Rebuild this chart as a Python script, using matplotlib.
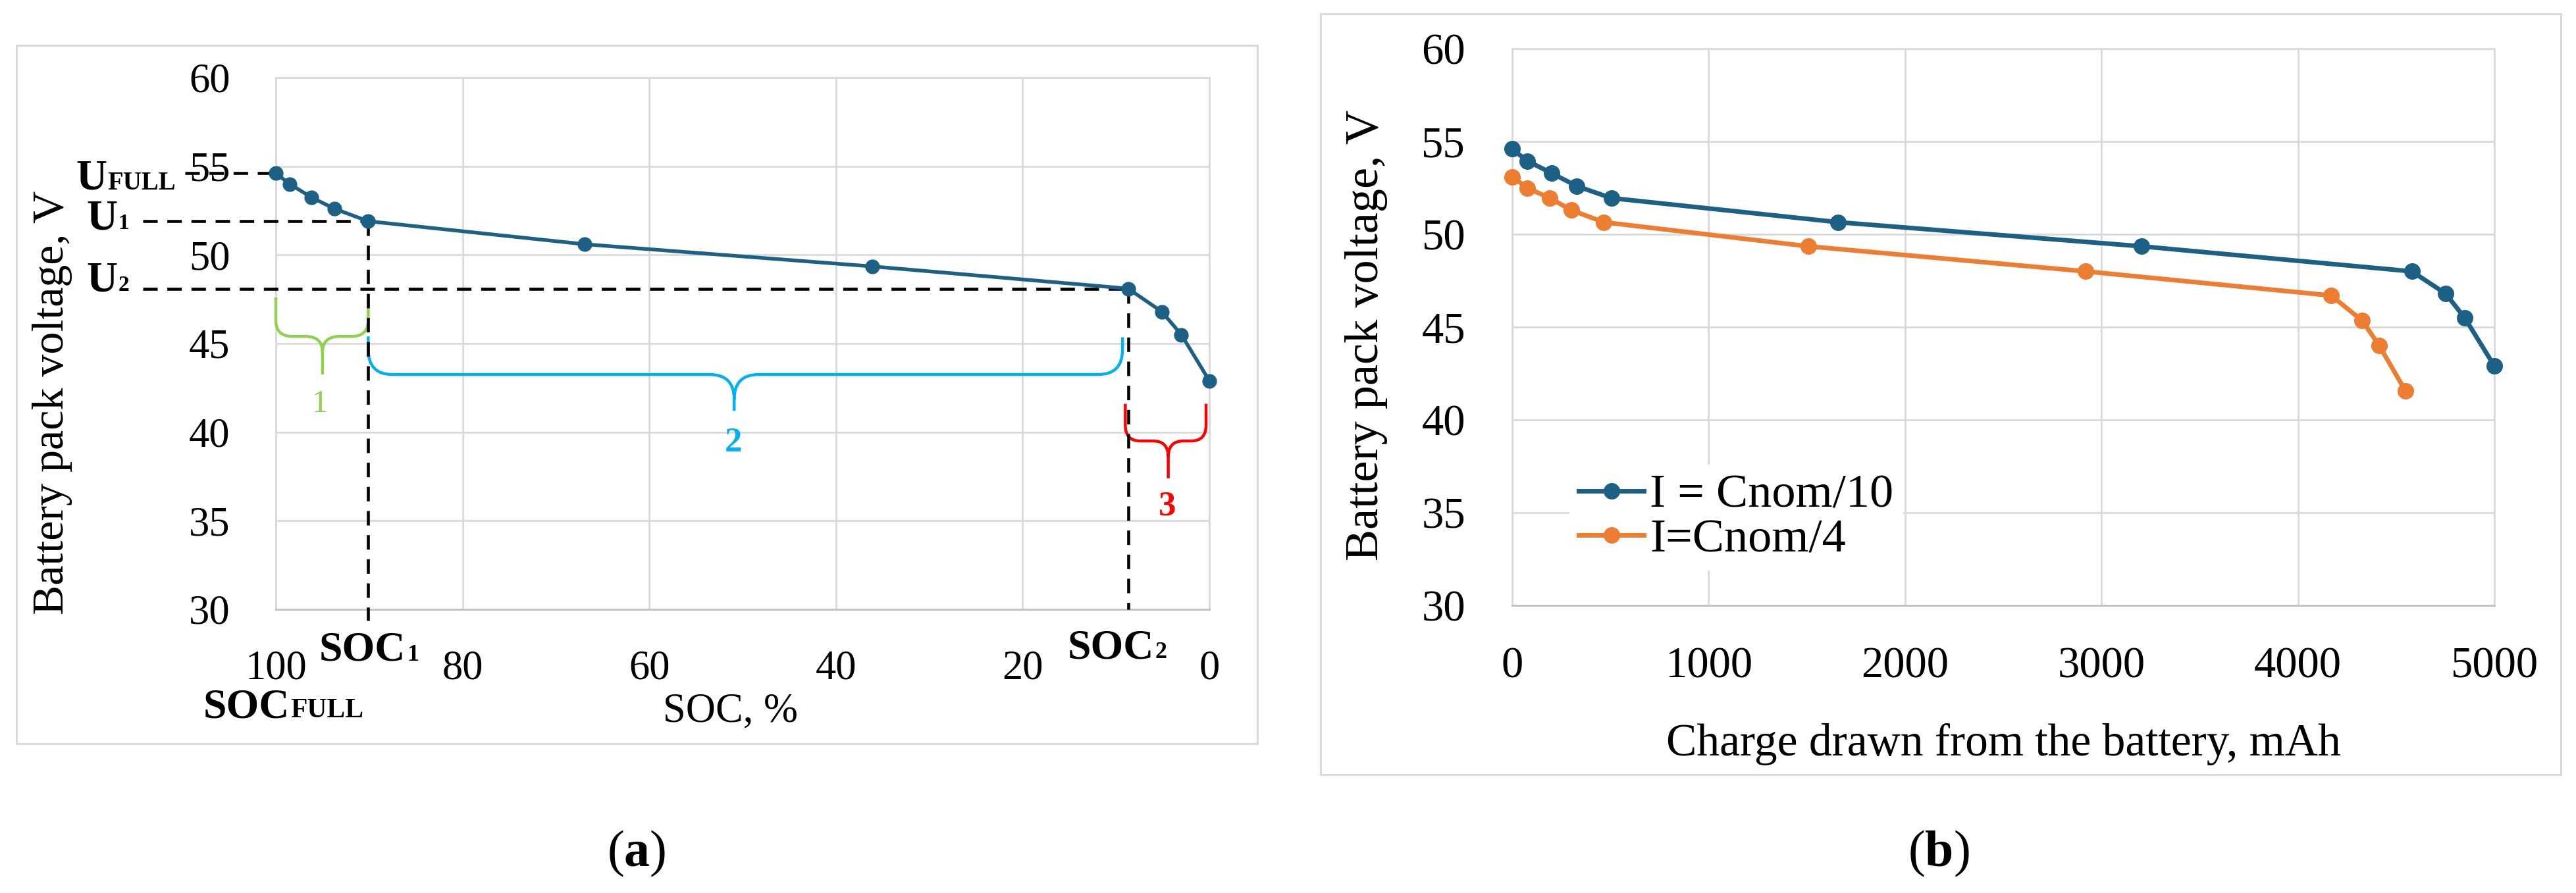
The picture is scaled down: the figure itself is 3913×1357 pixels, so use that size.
import matplotlib
matplotlib.use("Agg")
import matplotlib.pyplot as plt
from matplotlib.path import Path
from matplotlib.patches import PathPatch, Rectangle
import matplotlib.transforms as mtransforms

plt.rcParams['font.family'] = ['Liberation Serif', 'DejaVu Serif']
plt.rcParams['mathtext.fontset'] = 'custom'
plt.rcParams['mathtext.rm'] = 'Liberation Serif'
plt.rcParams['mathtext.bf'] = 'Liberation Serif:bold'

# ---------------- data ----------------
soc_pct = [100, 98.5, 96.2, 93.7, 90.1, 66.9, 36.1, 8.7, 5.1, 3.0, 0]
soc_volt = [54.6, 54.0, 53.25, 52.6, 51.9, 50.6, 49.35, 48.1, 46.8, 45.5, 42.9]

charge_c10 = [0, 77, 200, 328, 505, 1660, 3205, 4580, 4752, 4849, 5000]
volt_c10 = [54.6, 53.95, 53.3, 52.6, 51.95, 50.65, 49.35, 48.0, 46.8, 45.5, 42.9]
charge_c4 = [0, 77, 191, 302, 466, 1508, 2919, 4169, 4327, 4414, 4548]
volt_c4 = [53.1, 52.5, 51.95, 51.3, 50.65, 49.35, 48.0, 46.7, 45.35, 44.0, 41.55]

series_labels = ['I = Cnom/10', 'I=Cnom/4']
soc_ticks = [100, 80, 60, 40, 20, 0]
volt_ticks = [30, 35, 40, 45, 50, 55, 60]
charge_ticks = [0, 1000, 2000, 3000, 4000, 5000]

BLUE = '#1c6185'
ORANGE = '#ed7d31'
GRID = '#d9d9d9'

W, H, DPI = 3913, 1357, 100
fig = plt.figure(figsize=(W / DPI, H / DPI), dpi=DPI)


def px_rect(x0, y0, x1, y1):
    return [x0 / W, 1 - y1 / H, (x1 - x0) / W, (y1 - y0) / H]


def frame(x0, y0, x1, y1):
    fig.add_artist(Rectangle((x0 / W, 1 - y1 / H), (x1 - x0) / W, (y1 - y0) / H,
                             transform=fig.transFigure, fill=False, ec=GRID, lw=2.2))


def style_axes(ax):
    ax.grid(True, color=GRID, lw=2.0)
    ax.set_axisbelow(True)
    for s in ['left', 'right', 'top']:
        ax.spines[s].set_color(GRID)
        ax.spines[s].set_linewidth(2.0)
    ax.spines['bottom'].set_color('#c4c4c4')
    ax.spines['bottom'].set_linewidth(2.2)
    ax.tick_params(length=0)


frame(25, 69, 1910, 1130)
frame(2006, 21, 3890, 1177)

# ---------------- panel (a) ----------------
axL = fig.add_axes(px_rect(419, 118, 1837, 926))
style_axes(axL)
axL.set_xlim(100, 0)
axL.set_ylim(30, 60)
axL.set_xticks(soc_ticks)
axL.set_yticks(volt_ticks)
axL.tick_params(axis='x', labelsize=45, pad=44)
axL.tick_params(axis='y', labelsize=45, pad=50)

axL.plot(soc_pct, soc_volt, color=BLUE, lw=4, marker='o', ms=15, zorder=5, clip_on=False)

soc1, soc2 = soc_pct[4], soc_pct[7]
u_full, u1, u2 = soc_volt[0], soc_volt[4], soc_volt[7]

dash = dict(color='black', lw=3.3, ls=(0, (4.8, 3.2)), clip_on=False, zorder=4)
axL.plot([109.7, 100], [u_full, u_full], **dash)
axL.plot([114.25, soc1], [u1, u1], **dash)
axL.plot([114.25, soc2], [u2, u2], **dash)
axL.plot([soc1, soc1], [u1, 29.37], **dash)
axL.plot([soc2, soc2], [u2, 30], **dash)


def brace(ax, xa, xb, ytop_a, ytop_b, ymid, xc, ytip, rx, ry, color, lw=3.2):
    s = 1 if xb > xa else -1
    M, L, C = Path.MOVETO, Path.LINETO, Path.CURVE3
    verts = [(xa, ytop_a), (xa, ymid + ry), (xa, ymid), (xa + s * rx, ymid),
             (xc - s * rx, ymid), (xc, ymid), (xc, ymid - ry), (xc, ytip),
             (xb, ytop_b), (xb, ymid + ry), (xb, ymid), (xb - s * rx, ymid),
             (xc + s * rx, ymid), (xc, ymid), (xc, ymid - ry)]
    codes = [M, L, C, C, L, C, C, L, M, L, C, C, L, C, C]
    ax.add_patch(PathPatch(Path(verts, codes), fill=False, ec=color, lw=lw,
                           clip_on=False, zorder=3, capstyle='butt'))


brace(axL, 100, soc1, 47.6, 47.6, 45.4, 95.0, 43.25, 1.8, 0.9, '#92d050')
brace(axL, soc1, 9.3, 45.4, 45.35, 43.25, 50.9, 41.2, 2.6, 1.4, '#00b0f0')
brace(axL, 9.0, 0.35, 41.6, 41.6, 39.5, 4.4, 37.4, 1.6, 0.9, '#ff0000')
axL.text(95.3, 41.6, '1', color='#92d050', fontsize=35, ha='center', va='center')
axL.text(51.0, 39.4, '2', color='#00b0f0', fontsize=38, fontweight='bold', ha='center', va='center')
axL.text(4.5, 35.8, '3', color='#ff0000', fontsize=38, fontweight='bold', ha='center', va='center')


def two_part(ax, x, y, big, small, bsize, ssize, transform):
    t = ax.text(x, y, big, fontsize=bsize, fontweight='bold', transform=transform,
                ha='left', va='baseline', clip_on=False)
    ax.annotate(small, xy=(1, 0), xycoords=t, xytext=(1, 0.216 * bsize),
                textcoords='offset points', fontsize=ssize, fontweight='bold',
                ha='left', va='baseline', annotation_clip=False)


blend_y = mtransforms.blended_transform_factory(axL.transAxes, axL.transData)
blend_x = mtransforms.blended_transform_factory(axL.transData, axL.transAxes)
two_part(axL, -0.2144, u_full - 0.9, 'U', 'FULL', 47, 28, blend_y)
two_part(axL, -0.203, u1 - 0.45, 'U', '1', 47, 24, blend_y)
two_part(axL, -0.203, u2 - 0.15, 'U', '2', 47, 24, blend_y)
two_part(axL, 95.35, -0.0965, 'SOC', '1', 46, 26, blend_x)
two_part(axL, 107.8, -0.203, 'SOC', 'FULL', 46, 30, blend_x)
two_part(axL, 15.2, -0.0916, 'SOC', '2', 46, 26, blend_x)

axL.text(0.487, -0.193, 'SOC, %', transform=axL.transAxes, fontsize=45,
         ha='center', va='center')
fig.text(80 / W, 1 - 612 / H, 'Battery pack voltage, V', rotation=90,
         fontsize=49, ha='center', va='center')

# ---------------- panel (b) ----------------
axR = fig.add_axes(px_rect(2297, 74, 3789, 920))
style_axes(axR)
axR.set_xlim(0, 5000)
axR.set_ylim(30, 60)
axR.set_xticks(charge_ticks)
axR.set_yticks(volt_ticks)
axR.tick_params(axis='x', labelsize=48, pad=45)
axR.tick_params(axis='y', labelsize=48, pad=51)

axR.plot(charge_c10, volt_c10, color=BLUE, lw=5, marker='o', ms=17, zorder=5,
         clip_on=False, label=series_labels[0])
axR.plot(charge_c4, volt_c4, color=ORANGE, lw=5, marker='o', ms=17, zorder=5,
         clip_on=False, label=series_labels[1])

leg = axR.legend(loc='upper left', bbox_to_anchor=(2384 / W, 1 - 706 / H),
                 bbox_transform=fig.transFigure, fontsize=52, frameon=True,
                 framealpha=1, facecolor='white', edgecolor='none', fancybox=False,
                 borderaxespad=0, borderpad=0.2, handlelength=1.37,
                 handletextpad=0.12, labelspacing=0.02)

axR.set_xlabel('Charge drawn from the battery, mAh', fontsize=50, labelpad=40)
fig.text(2075 / W, 1 - 509 / H, 'Battery pack voltage, V', rotation=90,
         fontsize=52, ha='center', va='center')

# ---------------- panel captions ----------------
fig.text(967 / W, 1 - 1297 / H, r'($\mathbf{a}$)', fontsize=56, ha='center', va='center')
fig.text(2945 / W, 1 - 1297 / H, r'($\mathbf{b}$)', fontsize=56, ha='center', va='center')

fig.savefig('out.png', dpi=DPI, facecolor='white')
